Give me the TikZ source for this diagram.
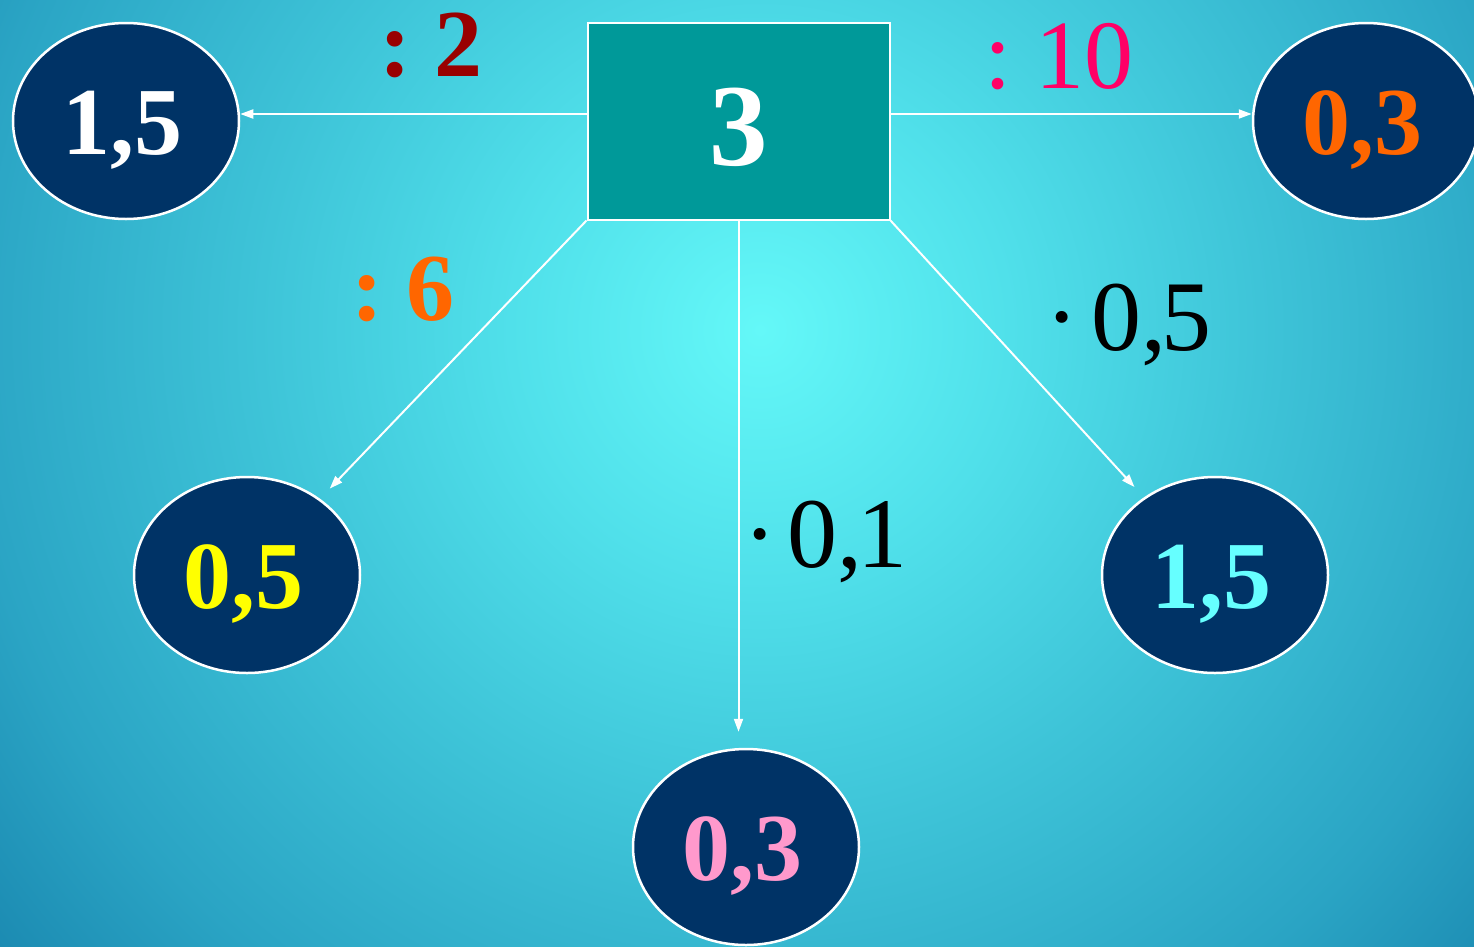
\documentclass[tikz,border=0pt]{standalone}
\usepackage{fontspec}
\setmainfont{Liberation Serif}
\usetikzlibrary{arrows.meta,shapes.geometric}
\definecolor{bgA}{HTML}{64F8F8}
\definecolor{bgB}{HTML}{50E0EA}
\definecolor{bgC}{HTML}{3EC4D8}
\definecolor{bgD}{HTML}{2AA4C4}
\definecolor{bgE}{HTML}{1A88B0}
\definecolor{navy}{HTML}{003366}
\definecolor{teal}{HTML}{009999}
\definecolor{dred}{HTML}{990000}
\definecolor{rose}{HTML}{FF0066}
\definecolor{orng}{HTML}{FF6600}
\definecolor{yell}{HTML}{FFFF00}
\definecolor{lcyan}{HTML}{66FFFF}
\definecolor{lpink}{HTML}{FF99CC}
\pgfdeclareradialshading{bgrad}{\pgfpoint{0bp}{0bp}}{color(0bp)=(bgA); color(6.25bp)=(bgB); color(12.5bp)=(bgC); color(20bp)=(bgD); color(25bp)=(bgE); color(50bp)=(bgE)}
\tikzset{
  numell/.style={ellipse, draw=white, line width=2.5pt, fill=navy,
    minimum width=226pt, minimum height=196pt, inner sep=0pt,
    font=\fontsize{96}{96}\selectfont\bfseries, text height=66pt, text depth=0pt,
    execute at end node={\kern8pt}},
  centerbox/.style={rectangle, draw=white, line width=2pt, fill=teal,
    minimum width=302pt, minimum height=197pt, inner sep=0pt, text=white,
    font=\fontsize{117}{117}\selectfont\bfseries, text height=88pt, text depth=0pt},
  conn/.style={draw=white, line width=2pt, -{Triangle[length=13pt,width=9pt]}},
  lblb/.style={anchor=base, inner sep=0pt, font=\fontsize{96}{96}\selectfont\bfseries},
  lblr/.style={anchor=base, inner sep=0pt, font=\fontsize{98}{98}\selectfont},
  lbld/.style={anchor=base west, inner sep=0pt, font=\fontsize{100}{100}\selectfont},
}
\begin{document}
\begin{tikzpicture}[x=1pt,y=-1pt]
\useasboundingbox (0,0) rectangle (1474,946);
\begin{scope}
\clip (0,0) rectangle (1474,946);
\shade[shading=bgrad] (760,330) circle (1000pt);
\end{scope}
% nodes
\node[centerbox] (box) at (738.5,121) {3};
\node[numell, text=white] (tl) at (126,121) {1,5};
\node[numell, text=orng] (tr) at (1366,121) {0,3};
\node[numell, text=yell] (ml) at (247,575) {0,5};
\node[numell, text=lcyan] (mr) at (1215,575) {1,5};
\node[numell, text=lpink] (bm) at (746,847) {0,3};
% connectors
\draw[conn] ([yshift=7pt]box.west) -- ([yshift=7pt]tl.east);
\draw[conn] ([yshift=7pt]box.east) -- ([yshift=7pt]tr.west);
\draw[conn, shorten >=14pt] (box.south west) -- (ml);
\draw[conn, shorten >=14pt] (box.south east) -- (mr);
\draw[conn, shorten >=16pt] (box.south) -- (box.south |- bm.north);
% labels
\node[lblb, text=dred] (l2) at (431,76) {:~2};
\node[lblr, text=rose] (l10) at (1059,88) {:~10};
\node[lblb, text=orng] (l6) at (403,320) {:~6};
\node[lbld, text=black] (l05) at (1045,350) {·\hspace{0.13em}0,\kern-0.05em5};
\node[lbld, text=black] (l01) at (743,567) {·\hspace{0.11em}0,\kern-0.05em1};
\end{tikzpicture}
\end{document}
